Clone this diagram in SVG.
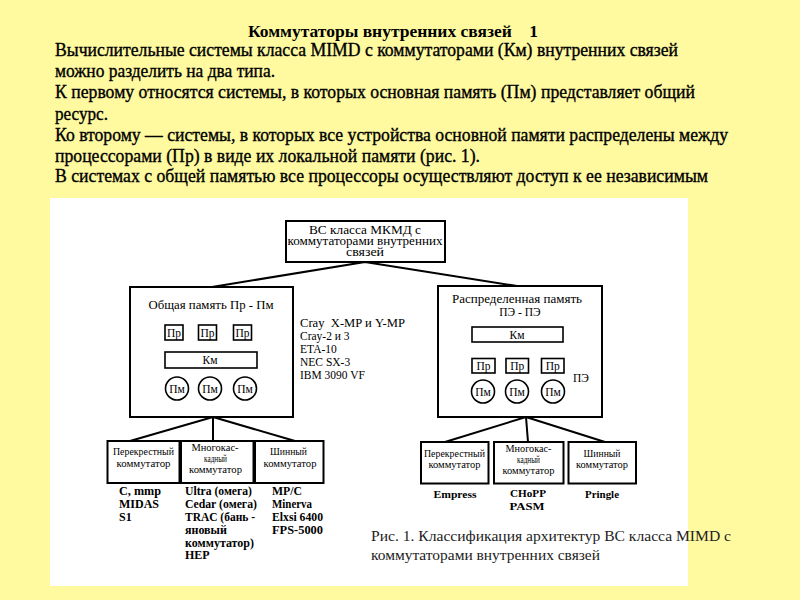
<svg xmlns="http://www.w3.org/2000/svg" width="800" height="600" viewBox="0 0 800 600">
<style>
.body{font-family:"Liberation Serif","Times New Roman",serif;font-size:18px;fill:#000;stroke:#000;stroke-width:0.35}
.title{font-family:"Liberation Serif","Times New Roman",serif;font-size:16.5px;font-weight:bold;fill:#000}
.d{font-family:"Liberation Serif","Times New Roman",serif;fill:#000}
.s{font-size:11.5px}
.xs{font-size:9.5px}
.lb{font-size:12px;font-weight:bold}
.rb{font-size:11px;font-weight:bold}
.ln{font-size:11.5px}
.box{fill:#fff;stroke:#000;stroke-width:2}
.sbox{fill:#fff;stroke:#000;stroke-width:1.6}
.con{stroke:#000;stroke-width:2;fill:none}
.thin{stroke:#000;stroke-width:1.5;fill:none}
.cap{font-family:"Liberation Serif","Times New Roman",serif;font-size:15.5px;fill:#222}
</style>
<rect x="0" y="0" width="800" height="600" fill="#FFFAA0"/>
<g id="heading">
<text class="title" x="248" y="37" textLength="290" lengthAdjust="spacingAndGlyphs" xml:space="preserve">Коммутаторы внутренних связей    1</text>
<text class="body" x="55" y="56" textLength="623" lengthAdjust="spacingAndGlyphs">Вычислительные системы класса MIMD с коммутаторами (Км) внутренних связей</text>
<text class="body" x="55" y="77" textLength="220" lengthAdjust="spacingAndGlyphs">можно разделить на два типа.</text>
<text class="body" x="55" y="98" textLength="640" lengthAdjust="spacingAndGlyphs">К первому относятся системы, в которых основная память (Пм) представляет общий</text>
<text class="body" x="55" y="119.5" textLength="53" lengthAdjust="spacingAndGlyphs">ресурс.</text>
<text class="body" x="55" y="140.5" textLength="673" lengthAdjust="spacingAndGlyphs">Ко второму — системы, в которых все устройства основной памяти распределены между</text>
<text class="body" x="55" y="161.5" textLength="425" lengthAdjust="spacingAndGlyphs">процессорами (Пр) в виде их локальной памяти (рис. 1).</text>
<text class="body" x="55" y="182" textLength="653" lengthAdjust="spacingAndGlyphs">В системах с общей памятью все процессоры осуществляют доступ к ее независимым</text>
</g>
<rect id="figure-bg" x="50" y="198" width="638" height="388" fill="#fff"/>
<g id="connectors">
<path class="con" d="M365 262 L212 287 M365 262 L517 286"/>
<path class="con" d="M213 417 L130 441 M213 417 L213 441 M213 417 L295 441"/>
<path class="con" d="M526 417 L445 442 M526 417 L528 442 M526 417 L605 442"/>
<path class="thin" d="M175 340 V352 M208 340 V352 M242 340 V352 M176 368 V377 M210 368 V377 M245 368 V377"/>
<path class="thin" d="M483 342 V358 M517 342 V358 M553 342 V358 M483 373 V380 M517 373 V380 M553 373 V380"/>
</g>
<g id="root">
<rect class="box" x="286" y="221" width="159" height="41"/>
<text class="d s" x="365" y="234" text-anchor="middle" textLength="112" lengthAdjust="spacingAndGlyphs">ВС класса МКМД с</text>
<text class="d s" x="365" y="245" text-anchor="middle" textLength="155" lengthAdjust="spacingAndGlyphs">коммутаторами внутренних</text>
<text class="d s" x="365" y="256" text-anchor="middle" textLength="38" lengthAdjust="spacingAndGlyphs">связей</text>
</g>
<g id="shared-memory">
<rect class="box" x="130" y="287" width="163" height="130"/>
<text class="d s" x="211" y="309" text-anchor="middle" textLength="125" lengthAdjust="spacingAndGlyphs">Общая память Пр - Пм</text>
<rect class="sbox" x="165" y="325" width="18" height="15"/>
<rect class="sbox" x="198.5" y="325" width="18" height="15"/>
<rect class="sbox" x="233.5" y="325" width="18" height="15"/>
<text class="d s" x="174" y="337" text-anchor="middle">Пр</text>
<text class="d s" x="207.5" y="337" text-anchor="middle">Пр</text>
<text class="d s" x="242.5" y="337" text-anchor="middle">Пр</text>
<rect class="sbox" x="165" y="352" width="92" height="16"/>
<text class="d s" x="210" y="364" text-anchor="middle">Км</text>
<circle class="sbox" cx="177" cy="388.5" r="11.5"/>
<circle class="sbox" cx="210" cy="388.5" r="11.5"/>
<circle class="sbox" cx="245" cy="388.5" r="11.5"/>
<text class="d s" x="177" y="392.5" text-anchor="middle">Пм</text>
<text class="d s" x="210" y="392.5" text-anchor="middle">Пм</text>
<text class="d s" x="245" y="392.5" text-anchor="middle">Пм</text>
</g>
<g id="shared-examples">
<text class="d ln" x="300" y="327" textLength="105" lengthAdjust="spacingAndGlyphs" xml:space="preserve">Cray  X-MP и Y-MP</text>
<text class="d ln" x="300" y="340">Cray-2 и 3</text>
<text class="d ln" x="300" y="353">ETA-10</text>
<text class="d ln" x="300" y="366">NEC SX-3</text>
<text class="d ln" x="300" y="379">IBM 3090 VF</text>
</g>
<g id="distributed-memory">
<rect class="box" x="438" y="286" width="164" height="131"/>
<text class="d s" x="517" y="303" text-anchor="middle" textLength="130" lengthAdjust="spacingAndGlyphs">Распределенная память</text>
<text class="d s" x="520" y="316" text-anchor="middle">ПЭ - ПЭ</text>
<rect class="sbox" x="472" y="327" width="91" height="15"/>
<text class="d s" x="517" y="338.5" text-anchor="middle">Км</text>
<rect class="sbox" x="472" y="358.5" width="23" height="14.5"/>
<rect class="sbox" x="506" y="358.5" width="22.5" height="14.5"/>
<rect class="sbox" x="541.5" y="358.5" width="22.5" height="14.5"/>
<text class="d s" x="483.5" y="370" text-anchor="middle">Пр</text>
<text class="d s" x="517.3" y="370" text-anchor="middle">Пр</text>
<text class="d s" x="552.8" y="370" text-anchor="middle">Пр</text>
<circle class="sbox" cx="483" cy="391.5" r="11.5"/>
<circle class="sbox" cx="517" cy="391.5" r="11.5"/>
<circle class="sbox" cx="553" cy="391.5" r="11.5"/>
<text class="d s" x="483" y="395.5" text-anchor="middle">Пм</text>
<text class="d s" x="517" y="395.5" text-anchor="middle">Пм</text>
<text class="d s" x="553" y="395.5" text-anchor="middle">Пм</text>
<text class="d s" x="573" y="382">ПЭ</text>
</g>
<g id="left-crossbar">
<rect class="box" x="107.5" y="441" width="72" height="42"/>
<text class="d xs" x="143.5" y="455" text-anchor="middle" textLength="61" lengthAdjust="spacingAndGlyphs">Перекрестный</text>
<text class="d xs" x="143.5" y="466.5" text-anchor="middle" textLength="54" lengthAdjust="spacingAndGlyphs">коммутатор</text>
</g>
<g id="left-multistage">
<rect class="box" x="181" y="441" width="72.5" height="42"/>
<text class="d xs" x="215" y="450.5" text-anchor="middle" textLength="47" lengthAdjust="spacingAndGlyphs">Многокас-</text>
<text class="d xs" x="215.5" y="461.5" text-anchor="middle" textLength="23" lengthAdjust="spacingAndGlyphs">кадный</text>
<text class="d xs" x="215.5" y="472.5" text-anchor="middle" textLength="53" lengthAdjust="spacingAndGlyphs">коммутатор</text>
</g>
<g id="left-bus">
<rect class="box" x="255" y="441" width="68.5" height="42"/>
<text class="d xs" x="288.5" y="455" text-anchor="middle" textLength="37" lengthAdjust="spacingAndGlyphs">Шинный</text>
<text class="d xs" x="290" y="466.5" text-anchor="middle" textLength="53" lengthAdjust="spacingAndGlyphs">коммутатор</text>
</g>
<g id="left-examples">
<text class="d lb" x="119" y="495" textLength="42" lengthAdjust="spacingAndGlyphs">C, mmp</text>
<text class="d lb" x="119" y="508" textLength="40" lengthAdjust="spacingAndGlyphs">MIDAS</text>
<text class="d lb" x="119" y="521">S1</text>
<text class="d lb" x="185" y="495" textLength="67" lengthAdjust="spacingAndGlyphs">Ultra (омега)</text>
<text class="d lb" x="185" y="508" textLength="72" lengthAdjust="spacingAndGlyphs">Cedar (омега)</text>
<text class="d lb" x="185" y="521" textLength="70" lengthAdjust="spacingAndGlyphs">TRAC (бань -</text>
<text class="d lb" x="185" y="533.5">яновый</text>
<text class="d lb" x="185" y="546.5">коммутатор)</text>
<text class="d lb" x="185" y="559">HEP</text>
<text class="d lb" x="272" y="495" textLength="30" lengthAdjust="spacingAndGlyphs">MP/C</text>
<text class="d lb" x="272" y="508" textLength="40" lengthAdjust="spacingAndGlyphs">Minerva</text>
<text class="d lb" x="272" y="521" textLength="51" lengthAdjust="spacingAndGlyphs">Elxsi 6400</text>
<text class="d lb" x="272" y="534" textLength="51" lengthAdjust="spacingAndGlyphs">FPS-5000</text>
</g>
<g id="right-crossbar">
<rect class="box" x="421" y="442" width="67.5" height="41.5"/>
<text class="d xs" x="454.5" y="456.5" text-anchor="middle" textLength="61" lengthAdjust="spacingAndGlyphs">Перекрестный</text>
<text class="d xs" x="454.5" y="468" text-anchor="middle" textLength="52" lengthAdjust="spacingAndGlyphs">коммутатор</text>
</g>
<g id="right-multistage">
<rect class="box" x="494" y="442" width="69.5" height="41.5"/>
<text class="d xs" x="528.5" y="451.5" text-anchor="middle" textLength="46" lengthAdjust="spacingAndGlyphs">Многокас-</text>
<text class="d xs" x="528.5" y="463" text-anchor="middle" textLength="23" lengthAdjust="spacingAndGlyphs">кадный</text>
<text class="d xs" x="528.5" y="474" text-anchor="middle" textLength="52" lengthAdjust="spacingAndGlyphs">коммутатор</text>
</g>
<g id="right-bus">
<rect class="box" x="568.5" y="442" width="67.5" height="41.5"/>
<text class="d xs" x="602" y="456.5" text-anchor="middle" textLength="37" lengthAdjust="spacingAndGlyphs">Шинный</text>
<text class="d xs" x="602" y="468" text-anchor="middle" textLength="52" lengthAdjust="spacingAndGlyphs">коммутатор</text>
</g>
<g id="right-examples">
<text class="d rb" x="455" y="497.5" text-anchor="middle" textLength="43" lengthAdjust="spacingAndGlyphs">Empress</text>
<text class="d rb" x="528" y="497" text-anchor="middle" textLength="36" lengthAdjust="spacingAndGlyphs">CHoPP</text>
<text class="d rb" x="527" y="510" text-anchor="middle" textLength="35" lengthAdjust="spacingAndGlyphs">PASM</text>
<text class="d rb" x="602" y="497.5" text-anchor="middle" textLength="34" lengthAdjust="spacingAndGlyphs">Pringle</text>
</g>
<g id="caption">
<text class="cap" x="371" y="541" textLength="360" lengthAdjust="spacingAndGlyphs">Рис. 1. Классификация архитектур ВС класса MIMD с</text>
<text class="cap" x="371" y="560" textLength="229" lengthAdjust="spacingAndGlyphs">коммутаторами внутренних связей</text>
</g>
</svg>
